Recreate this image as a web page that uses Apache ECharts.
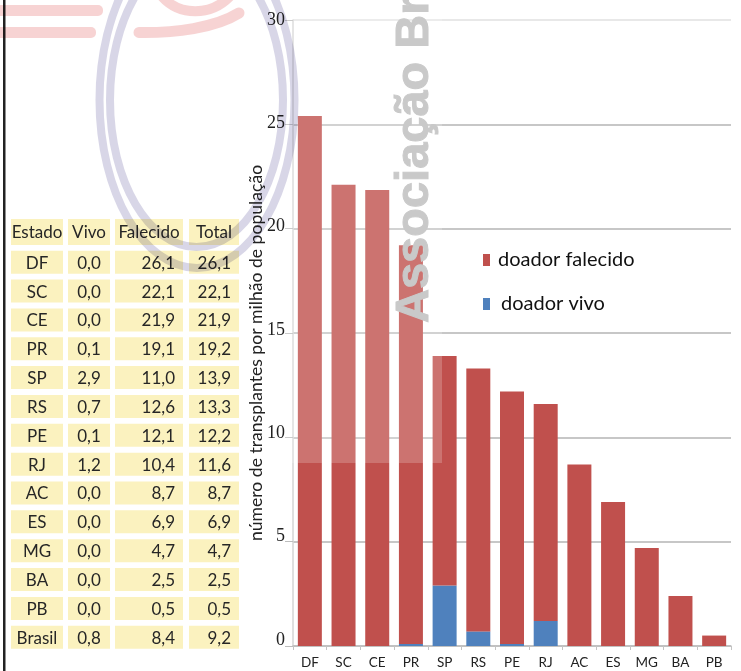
<!DOCTYPE html>
<html><head><meta charset="utf-8">
<style>html,body{margin:0;padding:0;background:#fff}#c{width:741px;height:671px}</style>
<script src="https://cdn.jsdelivr.net/npm/echarts@6/dist/echarts.min.js"></script>
</head><body><div id="c"></div>
<script>
const categories = ['DF','SC','CE','PR','SP','RS','PE','RJ','AC','ES','MG','BA','PB'];
const doadorVivo = [0,0,0,0.1,2.9,0.7,0.1,1.2,0,0,0,0,0];
const doadorFalecido = [25.4,22.1,21.85,19.1,11.0,12.6,12.1,10.4,8.7,6.9,4.7,2.4,0.5];
const tableHeader = ['Estado','Vivo','Falecido','Total'];
const tableEstado = ['DF','SC','CE','PR','SP','RS','PE','RJ','AC','ES','MG','BA','PB','Brasil'];
const tableVivo = ['0,0','0,0','0,0','0,1','2,9','0,7','0,1','1,2','0,0','0,0','0,0','0,0','0,0','0,8'];
const tableFalecido = ['26,1','22,1','21,9','19,1','11,0','12,6','12,1','10,4','8,7','6,9','4,7','2,5','0,5','8,4'];
const tableTotal = ['26,1','22,1','21,9','19,2','13,9','13,3','12,2','11,6','8,7','6,9','4,7','2,5','0,5','9,2'];

const FONT='Lato';
const cols=[{x:11,w:52,a:'center'},{x:68,w:42,a:'center'},{x:115,w:68,a:'right',r:175},{x:189,w:50,a:'right',r:231}];
const g=[];
// tabela
function cell(c,y,h,txt,header){
  g.push({type:'rect',z:1,shape:{x:c.x,y:y,width:c.w,height:h},style:{fill:'#FBF2BF'}});
  const tx=(c.a==='center'||header)?c.x+c.w/2:c.r;
  g.push({type:'text',z:3,x:tx,y:y+h/2+1,style:{text:txt,font:'17px '+FONT,fill:'#262626',align:(c.a==='center'||header)?'center':'right',verticalAlign:'middle'}});
}
tableHeader.forEach((t,i)=>cell(cols[i],219,26,t,true));
const rowsData=[tableEstado,tableVivo,tableFalecido,tableTotal];
tableEstado.forEach((_,r)=>{
  const y=250.7+r*28.85;
  rowsData.forEach((arr,i)=>cell(cols[i],y,23,arr[r],false));
});
// linha vertical
g.push({type:'rect',z:4,shape:{x:3,y:0,width:2.5,height:671},style:{fill:'#222'}});
// veu claro sobre as barras
g.push({type:'rect',z:5,shape:{x:284,y:0,width:158,height:463},style:{fill:'rgba(255,255,255,0.2)'}});
// marca d'agua
const pink='#F7D3D3', lilac='#D8D6E7';
const wm=(o)=>{o.z=6;o.style=Object.assign({blend:'multiply'},o.style);g.push(o);};
wm({type:'rect',shape:{x:0,y:5,width:103,height:11,r:[0,5,5,0]},style:{fill:pink}});
wm({type:'rect',shape:{x:0,y:27,width:96,height:11,r:[0,5,5,0]},style:{fill:pink}});
wm({type:'bezierCurve',shape:{x1:139,y1:32.5,cpx1:175,cpy1:33,cpx2:215,cpy2:28,x2:239,y2:13},style:{fill:null,stroke:pink,lineWidth:11,lineCap:'round'}});
wm({type:'bezierCurve',shape:{x1:160,y1:-6,cpx1:178,cpy1:17,cpx2:212,cpy2:17,x2:232,y2:-6},style:{fill:null,stroke:pink,lineWidth:10}});
wm({type:'ellipse',shape:{cx:197,cy:100,rx:97.5,ry:168},style:{fill:null,stroke:lilac,lineWidth:8}});
wm({type:'ellipse',shape:{cx:196.5,cy:100,rx:86.5,ry:147},style:{fill:null,stroke:lilac,lineWidth:8}});
wm({type:'text',x:415,y:323,rotation:Math.PI/2,style:{text:'Associação Br',font:'bold 47px "Liberation Sans"',fill:'#C9C9C9',stroke:'#C9C9C9',lineWidth:1,align:'left',verticalAlign:'middle'}});

// deslocamento vertical dos rótulos do eixo y, como na imagem (0 a 6 px para cima)
const rich={};
for(let d=0;d<=6;d++) rich['o'+d]={fontFamily:'Liberation Serif',fontSize:18,color:'#222',padding:[0,0,2*d,0]};

const option={
  animation:false,
  backgroundColor:'#fff',
  grid:{left:293,right:10,top:20,bottom:25},
  legend:[
    {data:['doador falecido'],orient:'vertical',left:483,top:250,padding:0,itemWidth:7,itemHeight:12,selectedMode:false,icon:'rect',textStyle:{fontFamily:FONT,fontSize:20,color:'#111',padding:[0,0,0,3]}},
    {data:['doador vivo'],orient:'vertical',left:483,top:294,padding:0,itemWidth:7,itemHeight:12,selectedMode:false,icon:'rect',textStyle:{fontFamily:FONT,fontSize:20,color:'#111',padding:[0,0,0,6]}}
  ],
  xAxis:{type:'category',data:categories,
    axisLine:{lineStyle:{color:'#bdbdbd',width:1.5}},
    axisTick:{show:true,alignWithLabel:false,length:4,lineStyle:{color:'#c4c4c4'}},
    axisLabel:{fontFamily:'Lato',fontSize:13.5,color:'#222',margin:10,interval:0}},
  yAxis:{type:'value',min:0,max:30,interval:5,
    name:'número de transplantes por milhão de população',nameLocation:'middle',nameRotate:90,nameGap:28,nameMoveOverlap:false,
    nameTextStyle:{fontFamily:FONT,fontSize:17.6,color:'#222',padding:[0,40,0,0]},
    axisLine:{show:true,lineStyle:{color:'#d4d4d4',width:1.5}},
    axisTick:{show:true,length:8,lineStyle:{color:'#bdbdbd'}},
    axisLabel:{margin:8,rich,formatter:(v)=>`{o${Math.round((30-v)/5)}|${v}}`},
    splitLine:{show:true,lineStyle:{color:['#bdbdbd','#b4b4b4','#b4b4b4','#b4b4b4','#b4b4b4','#b4b4b4','#e0e0e0'],width:1.5}}},
  series:[
    {name:'doador vivo',type:'bar',stack:'t',barWidth:24,data:doadorVivo,itemStyle:{color:'#4F81BD'}},
    {name:'doador falecido',type:'bar',stack:'t',barWidth:24,data:doadorFalecido,itemStyle:{color:'#C0504D'}}
  ],
  graphic:{elements:g}
};
const ch=echarts.init(document.getElementById('c'),null,{renderer:'canvas'});
ch.setOption(option);
</script></body></html>
